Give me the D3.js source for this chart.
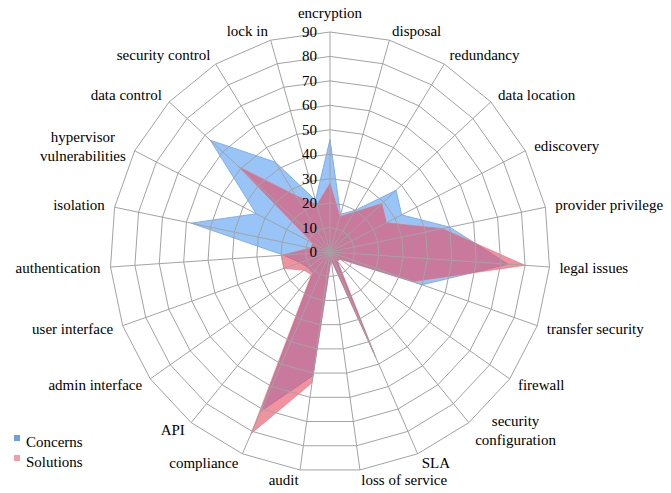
<!DOCTYPE html>
<html>
<head>
<meta charset="utf-8">
<script src="https://cdn.jsdelivr.net/npm/d3@7"></script>
<style>
  body { margin: 0; background: #fff; }
</style>
</head>
<body>
<svg id="chart" width="671" height="493"></svg>
<script>
// categories clockwise from the top
var categories = ["encryption", "disposal", "redundancy", "data location", "ediscovery",
  "provider privilege", "legal issues", "transfer security", "firewall",
  "security\nconfiguration", "SLA", "loss of service", "audit", "compliance", "API",
  "admin interface", "user interface", "authentication", "isolation",
  "hypervisor\nvulnerabilities", "data control", "security control", "lock in"];

var concerns  = [46, 16, 20, 37, 33, 50, 73, 40, 5, 4, 45, 3, 51, 71, 11, 11, 13, 19, 58, 34, 67, 43, 22];
var solutions = [28, 15, 19, 29, 26, 47, 80, 36, 5, 5, 47, 3, 54, 81, 12, 13, 20, 20, 8, 8, 51, 27, 20];

var tickLabels = [0, 10, 20, 30, 40, 50, 60, 70, 80, 90];
var seriesNames = ["Concerns", "Solutions"];

var cx = 330, cy = 252, R = 220;
var n = categories.length;
var serif = "'Liberation Serif', 'DejaVu Serif', 'Times New Roman', serif";

var svg = d3.select("#chart")
  .attr("font-family", serif)
  .attr("font-size", 15);

var r = d3.scaleLinear().domain([0, 90]).range([0, R]);
var angle = d3.scaleLinear().domain([0, n]).range([0, 2 * Math.PI]);

var g = svg.append("g").attr("transform", "translate(" + cx + "," + cy + ")");

//radar shape for one series
var radar = d3.lineRadial()
  .angle(function(d, i) { return angle(i); })
  .radius(function(d) { return r(d); })
  .curve(d3.curveLinearClosed);

g.append("path")
  .datum(concerns)
  .attr("d", radar)
  .attr("fill", "#98c4f7")
  .attr("stroke", "#80b0ea")
  .attr("stroke-width", 1);

g.append("path")
  .datum(solutions)
  .attr("d", radar)
  .attr("fill", "rgb(233,73,95)")
  .attr("fill-opacity", 0.6)
  .attr("stroke", "rgba(233,110,120,0.6)")
  .attr("stroke-width", 1);

//web grid, drawn over the fills like the original
var rings = tickLabels.slice(1);
g.selectAll("path.ring")
  .data(rings)
  .enter().append("path")
  .attr("class", "ring")
  .attr("d", function(v) {
    return radar(categories.map(function() { return v; }));
  })
  .attr("fill", "none")
  .attr("stroke", "#a3a3a3")
  .attr("stroke-width", 1);

g.selectAll("line.spoke")
  .data(categories)
  .enter().append("line")
  .attr("class", "spoke")
  .attr("x1", 0).attr("y1", 0)
  .attr("x2", function(d, i) { return r(90) * Math.sin(angle(i)); })
  .attr("y2", function(d, i) { return -r(90) * Math.cos(angle(i)); })
  .attr("stroke", "#a3a3a3")
  .attr("stroke-width", 1);

//value axis labels along the top spoke
g.selectAll("text.tick")
  .data(tickLabels)
  .enter().append("text")
  .attr("class", "tick")
  .attr("x", -13)
  .attr("y", function(d) { return -r(d) + 5; })
  .attr("text-anchor", "end")
  .attr("font-family", serif)
  .text(function(d) { return d; });

//category labels
g.selectAll("text.cat")
  .data(categories)
  .enter().append("text")
  .attr("class", "cat")
  .attr("font-family", serif)
  .each(function(d, i) {
    var a = angle(i);
    var s = Math.sin(a), c = Math.cos(a);
    var x = (R + 10) * s, y = -(R + 10) * c;
    var anchor = Math.abs(s) < 0.05 ? "middle" : (s > 0 ? "start" : "end");
    var lines = d.split("\n");
    var t = d3.select(this);
    if (lines.length == 1) {
      var base = (Math.abs(s) < 0.05 && c > 0) ? y - 4 : y + 5;
      t.attr("x", x).attr("y", base).attr("text-anchor", anchor).text(d);
    } else {
      t.attr("text-anchor", "middle");
      var spans = t.selectAll("tspan").data(lines).enter().append("tspan")
        .text(function(l) { return l; });
      var w = 0;
      spans.each(function() { w = Math.max(w, this.getComputedTextLength()); });
      var mx = anchor == "start" ? x + w / 2 : x - w / 2;
      spans.attr("x", mx)
        .attr("y", function(l, j) { return y + 5 - 9.5 + j * 19; });
    }
  });

//legend
var legendColors = ["#6f9fe0", "#f2a0a8"];
var legend = svg.selectAll("g.legend")
  .data(seriesNames)
  .enter().append("g")
  .attr("class", "legend")
  .attr("transform", function(d, i) { return "translate(14," + (435 + i * 20) + ")"; });

legend.append("rect")
  .attr("width", 6).attr("height", 6)
  .attr("fill", function(d, i) { return legendColors[i]; });

legend.append("text")
  .attr("x", 12)
  .attr("y", 12)
  .attr("font-family", serif)
  .text(function(d) { return d; });
</script>
</body>
</html>
